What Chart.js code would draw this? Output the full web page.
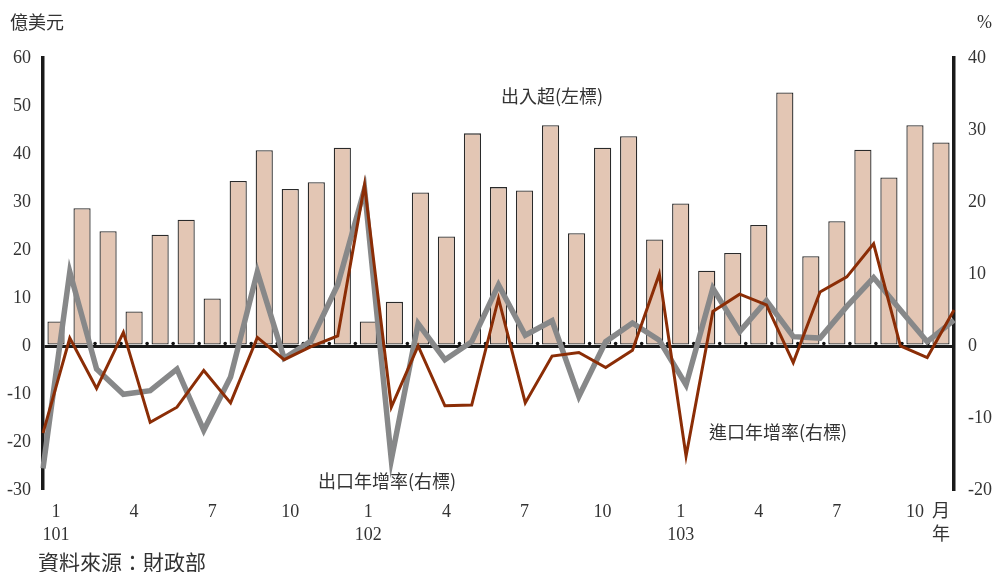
<!DOCTYPE html>
<html><head><meta charset="utf-8">
<script src="https://cdn.jsdelivr.net/npm/chart.js@4.4.1/dist/chart.umd.min.js"></script>
<style>html,body{margin:0;padding:0;background:#fff;}#wrap{width:998px;height:572px;}</style>
</head><body><div id="wrap"><canvas id="c" width="998" height="572"></canvas></div>
<script>
// ---- data ----
const months = ['1','2','3','4','5','6','7','8','9','10','11','12',
                '1','2','3','4','5','6','7','8','9','10','11','12',
                '1','2','3','4','5','6','7','8','9','10','11'];
const years = ['101','','','','','','','','','','','',
               '102','','','','','','','','','','','',
               '103','','','','','','','','','',''];
const shownMonths = ['1','4','7','10'];
const balance = [5.1, 28.7, 23.9, 7.2, 23.2, 26.3, 9.9, 34.4, 40.8, 32.7, 34.1, 41.3,
                 5.1, 9.2, 32.0, 22.8, 44.3, 33.1, 32.4, 46.0, 23.5, 41.3, 43.7, 22.2,
                 29.7, 15.7, 19.4, 25.2, 52.8, 18.7, 26.0, 40.9, 35.1, 46.0, 42.4];
const exportGrowth = [-17.0, 10.3, -3.2, -6.7, -6.2, -3.2, -11.7, -4.3, 10.3, -1.7, 0.7, 8.5,
                      21.8, -15.8, 3.1, -1.9, 0.6, 8.5, 1.5, 3.5, -7.0, 0.6, 3.2, 0.8,
                      -5.4, 8.0, 2.0, 6.3, 1.3, 1.1, 5.5, 9.5, 5.0, 0.6, 3.6];
const importGrowth = [-12.1, 1.1, -5.9, 1.9, -10.6, -8.5, -3.4, -7.9, 1.2, -1.9, -0.1, 1.4,
                      22.4, -8.5, 0.0, -8.3, -8.2, 6.6, -7.9, -1.4, -0.9, -3.0, -0.6, 10.0,
                      -15.3, 4.8, 7.2, 5.7, -2.3, 7.5, 9.6, 14.2, 0.0, -1.6, 5.0];
const leftTicks = [-30, -20, -10, 0, 10, 20, 30, 40, 50, 60];
const rightTicks = [-20, -10, 0, 10, 20, 30, 40];
const labelBalance = '出入超(左標)';
const labelExport = '出口年增率(右標)';
const labelImport = '進口年增率(右標)';
const unitLeft = '億美元';
const unitRight = '%';
const source = '資料來源：財政部';
const lastLabel = ['月', '年'];

// ---- style ----
const FONT = "'Liberation Serif','Noto Sans CJK TC',serif";
const CJK = "'Noto Sans CJK TC',sans-serif";
const TXT = '#333';

const cats = months.map((m, i) => (years[i] ? years[i] : '') + '/' + m + '#' + i);

const dotsPlugin = {
  id: 'dots',
  beforeDatasetsDraw(chart) {
    const x = chart.scales.x, y = chart.scales.y, ctx = chart.ctx;
    const y0 = y.getPixelForValue(0);
    ctx.save(); ctx.fillStyle = '#111';
    for (let i = 1; i < months.length; i++) {
      const px = (x.getPixelForValue(i - 1) + x.getPixelForValue(i)) / 2;
      ctx.beginPath(); ctx.arc(px, y0 - 2.5, 1.8, 0, Math.PI * 2); ctx.fill();
    }
    ctx.restore();
  }
};

const textPlugin = {
  id: 'texts',
  afterDraw(chart) {
    const ctx = chart.ctx;
    ctx.save();
    ctx.fillStyle = TXT; ctx.textBaseline = 'middle'; ctx.textAlign = 'left';
    ctx.font = '18px ' + CJK;
    ctx.fillText(unitLeft, 10, 22);
    ctx.fillText(labelBalance, 501, 96);
    ctx.fillText(labelExport, 318, 481);
    ctx.fillText(labelImport, 709, 432);
    ctx.font = '18px ' + FONT;
    ctx.fillText(unitRight, 977, 23);
    ctx.font = '21px ' + CJK;
    ctx.fillText(source, 38, 562);
    ctx.restore();
  }
};

new Chart(document.getElementById('c'), {
  data: {
    labels: cats,
    datasets: [
      { type: 'line', label: labelImport, data: importGrowth, xAxisID: 'x2', yAxisID: 'y2',
        borderColor: '#8B2D06', borderWidth: 3, pointRadius: 0, tension: 0, order: 0, fill: false },
      { type: 'line', label: labelExport, data: exportGrowth, xAxisID: 'x2', yAxisID: 'y2',
        borderColor: '#878889', borderWidth: 5.5, pointRadius: 0, tension: 0, order: 1, fill: false },
      { type: 'bar', label: labelBalance, data: balance, xAxisID: 'x', yAxisID: 'y',
        backgroundColor: '#E3C6B4', borderColor: '#2a2a2a', borderWidth: 1.3, borderSkipped: false,
        grouped: false, barPercentage: 0.66, categoryPercentage: 1.0, order: 2 }
    ]
  },
  options: {
    responsive: false, animation: false,
    layout: { padding: { top: 58, left: 0, right: 0, bottom: 0 } },
    plugins: { legend: { display: false }, tooltip: { enabled: false } },
    scales: {
      x: {
        type: 'category', offset: true, position: 'bottom',
        grid: { display: false, drawTicks: false }, border: { display: false },
        ticks: {
          autoSkip: false, maxRotation: 0, padding: 11, color: TXT,
          font: { family: FONT, size: 18, lineHeight: 1.28 },
          callback: function (v, i) {
            if (i === months.length - 1) return lastLabel;
            const m = months[i];
            if (shownMonths.includes(m)) return years[i] ? [m, years[i]] : m;
            return '';
          }
        },
        afterFit: s => { s.height = 82; }
      },
      x2: { type: 'category', offset: false, display: false, labels: cats },
      y: {
        position: 'left', min: leftTicks[0], max: leftTicks[leftTicks.length - 1],
        border: { display: true, color: '#1a1a1a', width: 3.5 },
        grid: {
          drawTicks: false,
          color: c => (c.tick && c.tick.value === 0) ? '#1a1a1a' : 'rgba(0,0,0,0)',
          lineWidth: c => (c.tick && c.tick.value === 0) ? 3 : 0
        },
        afterBuildTicks: s => { s.ticks = leftTicks.map(v => ({ value: v })); },
        ticks: { color: TXT, padding: 12, font: { family: FONT, size: 18 } },
        afterFit: s => { s.width = 43; }
      },
      y2: {
        position: 'right', min: rightTicks[0], max: rightTicks[rightTicks.length - 1],
        border: { display: true, color: '#1a1a1a', width: 3.5 },
        grid: { display: false, drawOnChartArea: false, drawTicks: false },
        afterBuildTicks: s => { s.ticks = rightTicks.map(v => ({ value: v })); },
        ticks: { color: TXT, padding: 14, font: { family: FONT, size: 18 } },
        afterFit: s => { s.width = 44; }
      }
    }
  },
  plugins: [dotsPlugin, textPlugin]
});
</script>
</body></html>
